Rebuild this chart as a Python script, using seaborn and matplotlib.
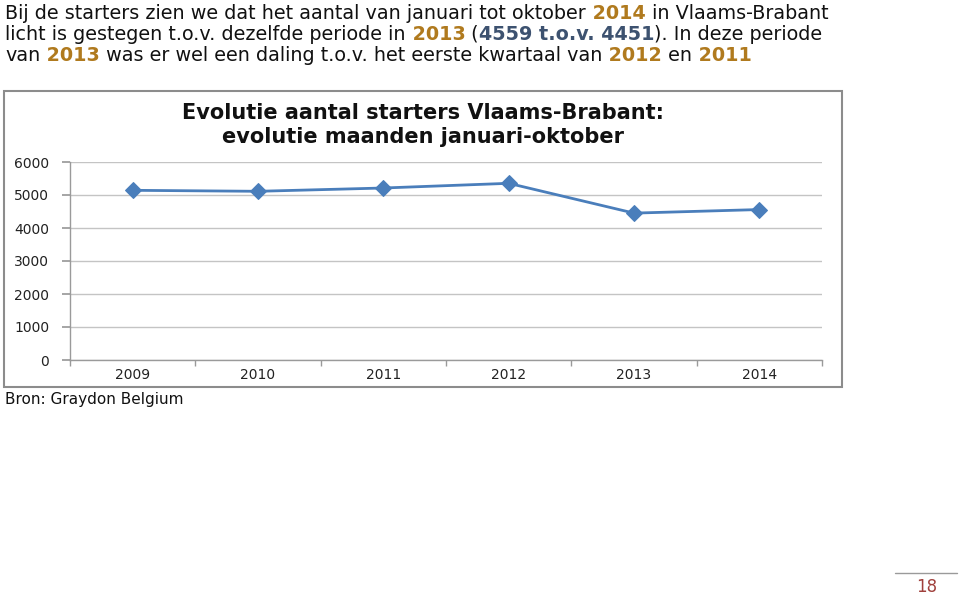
import matplotlib
matplotlib.use("Agg")
import matplotlib.pyplot as plt
import seaborn as sns
import pandas as pd
from matplotlib.patches import Rectangle
from matplotlib.lines import Line2D

# ---- data ----
years = ["2009", "2010", "2011", "2012", "2013", "2014"]
starters = [5142, 5112, 5212, 5354, 4451, 4559]
y_ticks = [0, 1000, 2000, 3000, 4000, 5000, 6000]
chart_title = "Evolutie aantal starters Vlaams-Brabant:\nevolutie maanden januari-oktober"
source_text = "Bron: Graydon Belgium"
page_number = "18"

GOLD = "#B07A1E"
NAVY = "#3D5270"
BLACK = "#111111"
# rich text lines: (text, color, bold)
text_lines = [
    [("Bij de starters zien we dat het aantal van januari tot oktober", BLACK, False),
     (" 2014", GOLD, True),
     (" in Vlaams-Brabant", BLACK, False)],
    [("licht is gestegen t.o.v. dezelfde periode in", BLACK, False),
     (" 2013", GOLD, True),
     (" (", BLACK, False),
     ("4559 t.o.v. 4451", NAVY, True),
     ("). In deze periode", BLACK, False)],
    [("van", BLACK, False),
     (" 2013", GOLD, True),
     (" was er wel een daling t.o.v. het eerste kwartaal van", BLACK, False),
     (" 2012", GOLD, True),
     (" en", BLACK, False),
     (" 2011", GOLD, True)],
]

df = pd.DataFrame({"jaar": years, "aantal": starters})

W, H = 960, 595
sns.set_theme(style="white")
plt.rcParams["font.family"] = ["DejaVu Sans"]
fig = plt.figure(figsize=(W / 100, H / 100), dpi=100)
fig.patch.set_facecolor("white")


def fx(px):
    return px / W


def fy(py):
    return 1 - py / H


# chart frame
fig.patches.append(Rectangle((fx(4), fy(387)), fx(838), 296 / H, transform=fig.transFigure,
                             fill=False, edgecolor="#8C8C8C", linewidth=1.5, zorder=0))

ax = fig.add_axes([fx(70), fy(360), fx(822) - fx(70), (360 - 162) / H])
ax.set_facecolor("none")
sns.lineplot(data=df, x="jaar", y="aantal", ax=ax, color="#4A7EBB", linewidth=2.0,
             marker="D", markersize=8, markeredgecolor="#4A7EBB", sort=False)

ax.set_xlim(-0.5, len(years) - 0.5)
ax.set_ylim(0, 6000)
ax.set_yticks(y_ticks)
ax.set_yticklabels([str(v) for v in y_ticks])
ax.set_xticks(range(len(years)))
ax.set_xticklabels(years)
ax.set_xticks([i - 0.5 for i in range(len(years) + 1)], minor=True)
ax.tick_params(axis="x", which="major", length=0, pad=6, labelsize=10, labelcolor="#222222")
ax.tick_params(axis="x", which="minor", length=4, color="#9A9A9A", direction="out", bottom=True)
ax.tick_params(axis="y", length=6, color="#9A9A9A", direction="out", left=True, pad=9,
               labelsize=10, labelcolor="#222222")
ax.grid(axis="y", color="#C4C4C4", linewidth=1.0)
ax.set_axisbelow(True)
for s in ["top", "right"]:
    ax.spines[s].set_visible(False)
for s in ["left", "bottom"]:
    ax.spines[s].set_color("#9A9A9A")
    ax.spines[s].set_linewidth(1.0)
ax.set_xlabel("")
ax.set_ylabel("")

fig.text(fx(423), fy(125), chart_title, ha="center", va="center", fontsize=15,
         fontweight="bold", color="#111111", linespacing=1.25)

# rich text paragraph
renderer = fig.canvas.get_renderer()
probe = fig.text(0, 0, "".join(s for s, _, _ in text_lines[0]), fontsize=10)
w10 = probe.get_window_extent(renderer).width
probe.remove()
fs = 10 * 818 / w10
baselines = [19, 40, 61]
for line, base in zip(text_lines, baselines):
    x = 5
    for seg, col, bold in line:
        t = fig.text(fx(x), fy(base), seg, fontsize=fs, color=col,
                     fontweight="bold" if bold else "normal", va="baseline", ha="left")
        x += t.get_window_extent(renderer).width

fig.text(fx(5), fy(404), source_text, fontsize=11, color=BLACK, va="baseline", ha="left")

fig.add_artist(Line2D([fx(895), fx(957)], [fy(573), fy(573)], color="#9A9A9A", linewidth=1.0,
                      transform=fig.transFigure))
fig.text(fx(927), fy(587), page_number, fontsize=12, color="#A0403C", ha="center", va="center")

fig.savefig("out.png", dpi=100, facecolor="white")
